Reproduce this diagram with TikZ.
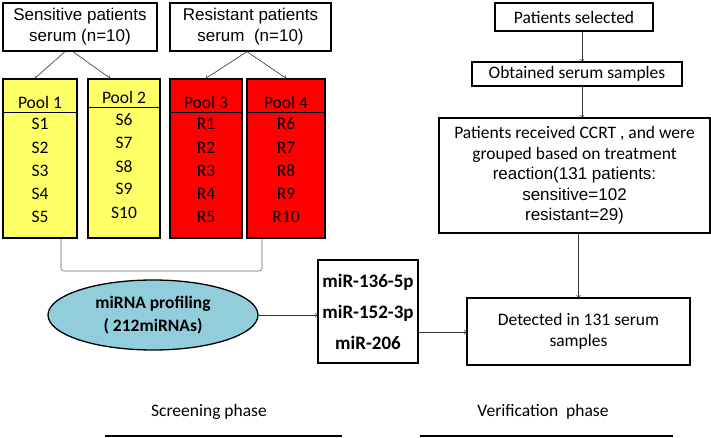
\documentclass[tikz,border=0pt]{standalone}
\usepackage{fontspec}
\setmainfont{Carlito}
\newfontfamily\arialfont{Liberation Sans}
\usetikzlibrary{positioning,shapes.geometric,calc}
\definecolor{poolyellow}{RGB}{255,255,102}
\definecolor{poolred}{RGB}{255,0,0}
\definecolor{profblue}{RGB}{146,205,220}
\tikzset{%
  txt/.style={font=\fontsize{17.5}{21}\selectfont,inner sep=0pt},
  box/.style={draw,line width=1.3pt,align=center,inner sep=0pt,font=\fontsize{17.5}{20.5}\selectfont},
  pool/.style={draw,line width=1.6pt,inner sep=0pt,minimum height=159pt},
  hline/.style={line width=0.8pt},
  arr/.style={->,>=to,draw=black!80,line width=0.6pt},
  bracket/.style={draw=black!60,line width=0.6pt,rounded corners=3pt},
  phase/.style={line width=2.5pt}
}

\begin{document}
\begin{tikzpicture}[x=1pt,y=-1pt]
  \useasboundingbox (0,0) rectangle (711,438);
  % screening side
  \node[box,minimum width=154pt,minimum height=48pt,font=\arialfont\fontsize{17}{21}\selectfont] (sens) at (80,27) {Sensitive patients\\serum (n=10)};
  \node[box,minimum width=161pt,minimum height=48pt,font=\arialfont\fontsize{17}{21}\selectfont] (resi) at (250.5,27) {Resistant patients\\serum~ (n=10)};

  \node[pool,fill=poolyellow,minimum width=74pt] (p1) at (40,158.5) {};
  \node[pool,fill=poolyellow,minimum width=72pt] (p2) at (124,158.5) {};
  \node[pool,fill=poolred,minimum width=72pt] (p3) at (206,158.5) {};
  \node[pool,fill=poolred,minimum width=78pt] (p4) at (286,158.5) {};
  \draw[hline] (p1.west |- 0,112) -- (p1.east |- 0,112);
  \draw[hline] (p2.west |- 0,107) -- (p2.east |- 0,107);
  \draw[hline] (p3.west |- 0,112) -- (p3.east |- 0,112);
  \draw[hline] (p4.west |- 0,112) -- (p4.east |- 0,112);
  \node[txt] (p1h) at (40,102) {Pool 1};
  \node[txt] (p2h) at (124,97) {Pool 2};
  \node[txt] (p3h) at (206,102) {Pool 3};
  \node[txt] (p4h) at (286,102) {Pool 4};
  \foreach \i/\y in {1/124,2/148,3/171,4/194,5/217} {
    \pgfmathtruncatemacro\k{\i+5}
    \node[txt] (s\i) at (40,\y) {S\i};
    \node[txt] (r\i) at (206,\y) {R\i};
    \node[txt] (r\k) at (286,\y) {R\k};
  }
  \foreach \i/\y in {6/120,7/143,8/167,9/189,10/213}
    \node[txt] (s\i) at (124,\y) {S\i};

  \draw[arr] ([xshift=-15pt]sens.south) -- ([xshift=-5pt]p1.north);
  \draw[arr] ([xshift=-7pt]sens.south) -- ([xshift=-14pt]p2.north);
  \draw[arr] ([xshift=-3.5pt]resi.south) -- (p3.north);
  \draw[arr] ([xshift=-3.5pt]resi.south) -- (p4.north);

  \coordinate (brk) at (160,271);
  \draw[bracket] ([xshift=21pt]p1.south) |- (brk) -| ([xshift=-24pt]p4.south);

  \node[ellipse,draw,fill=profblue,line width=1.3pt,minimum width=210pt,minimum height=70pt,inner sep=0pt,
        align=center,font=\bfseries\fontsize{17.5}{23}\selectfont] (prof) at (153,315) {miRNA profiling\\( 212miRNAs)};
  \node[box,minimum width=100pt,minimum height=103pt,font=\bfseries\fontsize{19}{31}\selectfont] (mir) at (368,311.5)
    {miR-136-5p\\miR-152-3p\\miR-206};
  \draw[arr] (prof.east) -- (prof.east -| mir.west);

  % verification side
  \node[box,minimum width=158pt,minimum height=28pt] (sel) at (574,17) {Patients selected};
  \node[box,minimum width=210pt,minimum height=24pt] (obt) at (577,74) {Obtained serum samples};
  \node[box,minimum width=271pt,minimum height=115pt] (ccrt) at (574.5,175.5)
    {Patients received CCRT , and were\\grouped based on treatment\\{\arialfont\fontsize{17}{20.5}\selectfont reaction(131 patients:}\\{\arialfont\fontsize{17}{20.5}\selectfont sensitive=102}\\{\arialfont\fontsize{17}{20.5}\selectfont resistant=29)}};
  \node[box,minimum width=223pt,minimum height=67pt] (det) at (578.5,331.5) {Detected in 131 serum\\samples};

  \draw[arr] ([xshift=8pt]sel.south) -- ([xshift=8pt]sel.south |- obt.north);
  \draw[arr] ([xshift=8pt]sel.south |- obt.south) -- ([xshift=8pt]sel.south |- ccrt.north);
  \draw[arr] (det.north |- ccrt.south) -- (det.north);
  \coordinate (mirout) at ([yshift=-20.5pt]mir.east);
  \draw[arr] (mirout) -- (mirout -| det.west);

  % phases
  \node[txt] (scr) at (209,412) {Screening phase};
  \node[txt] (ver) at (543,412) {Verification~ phase};
  \draw[phase] (105,436) -- (342,436);
  \draw[phase] (420,436) -- (673,436);
\end{tikzpicture}
\end{document}
